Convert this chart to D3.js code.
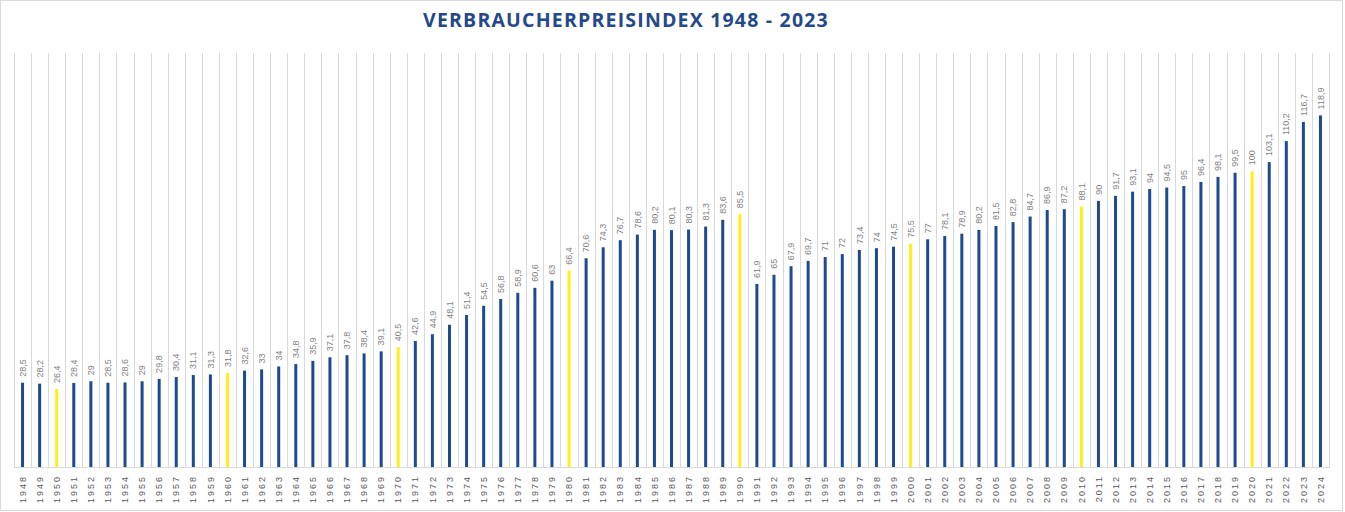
<!DOCTYPE html>
<html><head><meta charset="utf-8">
<script src="https://cdn.jsdelivr.net/npm/d3@7"></script>
<style>body{margin:0;background:#fff}svg{display:block}</style>
</head><body>
<svg id="c" width="1345" height="512"></svg>
<script>
const years = [1948,1949,1950,1951,1952,1953,1954,1955,1956,1957,1958,1959,1960,1961,1962,1963,1964,1965,1966,1967,1968,1969,1970,1971,1972,1973,1974,1975,1976,1977,1978,1979,1980,1981,1982,1983,1984,1985,1986,1987,1988,1989,1990,1991,1992,1993,1994,1995,1996,1997,1998,1999,2000,2001,2002,2003,2004,2005,2006,2007,2008,2009,2010,2011,2012,2013,2014,2015,2016,2017,2018,2019,2020,2021,2022,2023,2024];
const values = [28.5,28.2,26.4,28.4,29,28.5,28.6,29,29.8,30.4,31.1,31.3,31.8,32.6,33,34,34.8,35.9,37.1,37.8,38.4,39.1,40.5,42.6,44.9,48.1,51.4,54.5,56.8,58.9,60.6,63,66.4,70.6,74.3,76.7,78.6,80.2,80.1,80.3,81.3,83.6,85.5,61.9,65,67.9,69.7,71,72,73.4,74,74.5,75.5,77,78.1,78.9,80.2,81.5,82.8,84.7,86.9,87.2,88.1,90,91.7,93.1,94,94.5,95,96.4,98.1,99.5,100,103.1,110.2,116.7,118.9];
const highlightYears = [1950,1960,1970,1980,1990,2000,2010,2020];
const title = "VERBRAUCHERPREISINDEX 1948 - 2023";
const yMax = 140;

(function(){
const svg = d3.select("#c");
const pL = 14, pR = 1329, pT = 53, pB = 467;

svg.append("rect").attr("x",0.5).attr("y",0.5).attr("width",1342).attr("height",510)
  .attr("fill","#fff").attr("stroke","#d9d9d9");

svg.append("text").attr("x",626).attr("y",27).attr("text-anchor","middle")
  .attr("font-family","'Open Sans', 'Noto Sans', sans-serif").attr("font-weight","bold")
  .attr("font-size",19.5).attr("letter-spacing","1.2px").attr("fill","#24498a").text(title);

const x = d3.scaleBand().domain(years).range([pL,pR]).padding(0);
const y = d3.scaleLinear().domain([0,yMax]).range([pB,pT]);

const bounds = years.map(d=>x(d)).concat([pR]);
svg.append("g").selectAll("line").data(bounds).join("line")
  .attr("x1",d=>Math.round(d)+0.5).attr("x2",d=>Math.round(d)+0.5)
  .attr("y1",pT).attr("y2",pB).attr("stroke","#d9d9d9").attr("stroke-width",1);

svg.append("line").attr("x1",pL).attr("x2",pR+1).attr("y1",pB+0.5).attr("y2",pB+0.5)
  .attr("stroke","#d9d9d9");

const data = years.map((yr,i)=>({yr, v: values[i]}));
const bw = 3;
svg.append("g").selectAll("rect").data(data).join("rect")
  .attr("x",d=>x(d.yr)+x.bandwidth()/2-bw/2).attr("width",bw)
  .attr("y",d=>y(d.v)).attr("height",d=>y(0)-y(d.v))
  .attr("fill",d=>highlightYears.includes(d.yr)?"#ffef1a":"#1f4a8f");

const fmt = v => String(v).replace(".",",");
const lblG = svg.append("g");
data.forEach(d=>{
  const cx = x(d.yr)+x.bandwidth()/2;
  const g = lblG.append("g").attr("transform",`translate(${cx},${y(d.v)-6}) rotate(-90)`);
  const t = g.append("text").attr("x",0).attr("y",0).attr("dy","0.35em")
    .attr("font-family","'Liberation Sans', Arial, sans-serif").attr("font-size",9)
    .attr("fill","#7f7f7f").text(fmt(d.v));
  const bb = t.node().getBBox();
  g.insert("rect","text").attr("x",bb.x-2).attr("y",bb.y-2).attr("width",bb.width+4).attr("height",bb.height+4).attr("fill","#fff");
});

svg.append("g").selectAll("text").data(years).join("text")
  .attr("transform",d=>`translate(${x(d)+x.bandwidth()/2},${pB+8}) rotate(-90)`)
  .attr("text-anchor","end").attr("dy","0.35em")
  .attr("font-family","'Liberation Sans', Arial, sans-serif").attr("font-size",9)
  .attr("letter-spacing","2px").attr("fill","#595959").text(d=>d);
})();
</script>
</body></html>
